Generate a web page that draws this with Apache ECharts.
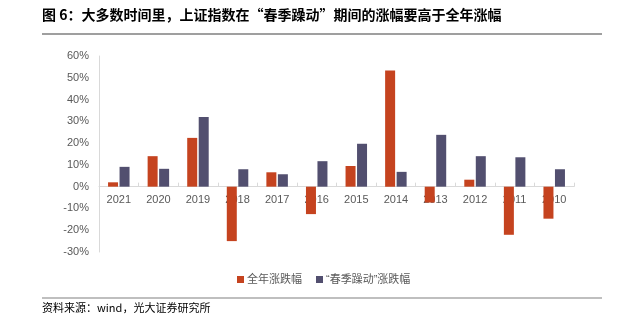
<!DOCTYPE html>
<html>
<head>
<meta charset="utf-8">
<script src="https://cdn.jsdelivr.net/npm/echarts@6/dist/echarts.min.js"></script>
<style>html,body{margin:0;padding:0;background:#fff;}#c{width:619px;height:328px;}</style>
</head>
<body>
<div id="c"></div>
<script>
const categories = ['2021','2020','2019','2018','2017','2016','2015','2014','2013','2012','2011','2010'];
const fullYear = [2.0, 14.0, 22.4, -25.0, 6.6, -12.6, 9.5, 53.3, -7.3, 3.2, -22.1, -14.7];
const springRally = [9.1, 8.2, 32.0, 8.0, 5.7, 11.7, 19.7, 6.8, 23.8, 14.0, 13.5, 8.0];
const seriesNames = ['全年涨跌幅', '“春季躁动”涨跌幅'];
const yTicks = { min: -30, max: 60, interval: 10 };

const gridTop = 56, gridBottom = 76, H = 328;
const plotH = H - gridTop - gridBottom;
const zeroOffset = plotH * (0 - yTicks.min) / (yTicks.max - yTicks.min);

const chart = echarts.init(document.getElementById('c'), null, { renderer: 'canvas' });
const latinCjk = '"Liberation Sans", Arial, "Noto Sans CJK SC", sans-serif';
chart.setOption({
  animation: false,
  backgroundColor: '#fff',
  graphic: [
    { type: 'text', left: 42, top: 8, style: { text: '图 6：大多数时间里，上证指数在“春季躁动”期间的涨幅要高于全年涨幅', font: 'bold 14px "Noto Sans CJK SC", sans-serif', fill: '#000' } },
    { type: 'rect', shape: { x: 42, y: 33.5, width: 560, height: 1 }, style: { fill: '#404040' } },
    { type: 'rect', shape: { x: 42, y: 297.5, width: 560, height: 1 }, style: { fill: '#808080' } },
    { type: 'text', left: 42, top: 302, style: { text: '资料来源：wind，光大证券研究所', font: '11px "Noto Sans CJK SC", sans-serif', fill: '#000' } }
  ],
  legend: {
    data: seriesNames,
    top: 269,
    left: 232,
    itemWidth: 7,
    itemHeight: 7,
    itemGap: 14,
    icon: 'rect',
    textStyle: { fontSize: 11, color: '#595959', fontFamily: latinCjk, padding: [0, 0, 0, -2] }
  },
  grid: { left: 99, right: 45, top: gridTop, bottom: gridBottom, containLabel: false },
  xAxis: {
    type: 'category',
    data: categories,
    offset: -zeroOffset,
    axisLine: { onZero: false, lineStyle: { color: '#D9D9D9', width: 1 } },
    axisTick: { show: true, inside: true, length: 4, lineStyle: { color: '#D9D9D9' } },
    axisLabel: { fontSize: 11, color: '#595959', fontFamily: '"Liberation Sans", Arial, sans-serif', margin: 8 }
  },
  yAxis: {
    type: 'value',
    min: yTicks.min, max: yTicks.max, interval: yTicks.interval,
    axisLine: { show: true, lineStyle: { color: '#D9D9D9' } },
    axisTick: { show: false },
    splitLine: { show: false },
    axisLabel: { fontSize: 11, color: '#595959', fontFamily: '"Liberation Sans", Arial, sans-serif', margin: 10, formatter: v => v + '%' }
  },
  series: [
    { name: seriesNames[0], type: 'bar', data: fullYear, barWidth: 10, barGap: '15%', z: 3, itemStyle: { color: '#C5431F' } },
    { name: seriesNames[1], type: 'bar', data: springRally, barWidth: 10, z: 3, itemStyle: { color: '#524F6F' } }
  ]
});
</script>
</body>
</html>
